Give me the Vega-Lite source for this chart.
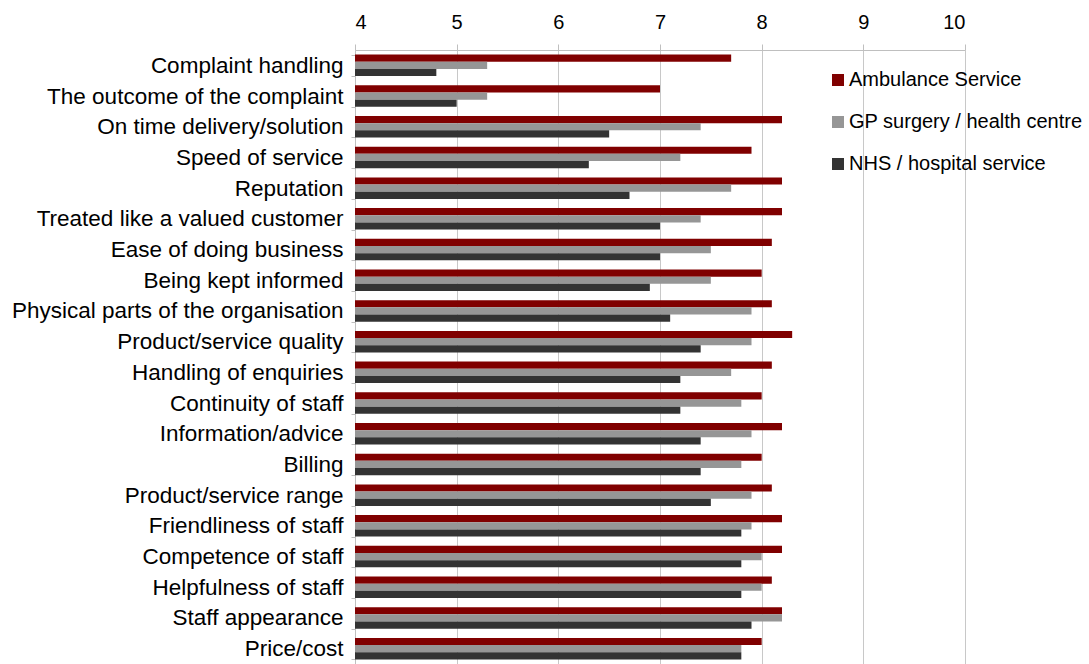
{
  "$schema": "https://vega.github.io/schema/vega-lite/v6.json",
  "autosize": "none",
  "width": 610,
  "height": 614,
  "padding": {"left": 355, "top": 50, "right": 124, "bottom": 0},
  "background": "white",
  "config": {
    "font": "Liberation Sans",
    "view": {"stroke": null}
  },
  "data": {
    "values": [
      {"item": "Complaint handling", "Ambulance Service": 7.7, "GP surgery / health centre": 5.3, "NHS / hospital service": 4.8},
      {"item": "The outcome of the complaint", "Ambulance Service": 7.0, "GP surgery / health centre": 5.3, "NHS / hospital service": 5.0},
      {"item": "On time delivery/solution", "Ambulance Service": 8.2, "GP surgery / health centre": 7.4, "NHS / hospital service": 6.5},
      {"item": "Speed of service", "Ambulance Service": 7.9, "GP surgery / health centre": 7.2, "NHS / hospital service": 6.3},
      {"item": "Reputation", "Ambulance Service": 8.2, "GP surgery / health centre": 7.7, "NHS / hospital service": 6.7},
      {"item": "Treated like a valued customer", "Ambulance Service": 8.2, "GP surgery / health centre": 7.4, "NHS / hospital service": 7.0},
      {"item": "Ease of doing business", "Ambulance Service": 8.1, "GP surgery / health centre": 7.5, "NHS / hospital service": 7.0},
      {"item": "Being kept informed", "Ambulance Service": 8.0, "GP surgery / health centre": 7.5, "NHS / hospital service": 6.9},
      {"item": "Physical parts of the organisation", "Ambulance Service": 8.1, "GP surgery / health centre": 7.9, "NHS / hospital service": 7.1},
      {"item": "Product/service quality", "Ambulance Service": 8.3, "GP surgery / health centre": 7.9, "NHS / hospital service": 7.4},
      {"item": "Handling of enquiries", "Ambulance Service": 8.1, "GP surgery / health centre": 7.7, "NHS / hospital service": 7.2},
      {"item": "Continuity of staff", "Ambulance Service": 8.0, "GP surgery / health centre": 7.8, "NHS / hospital service": 7.2},
      {"item": "Information/advice", "Ambulance Service": 8.2, "GP surgery / health centre": 7.9, "NHS / hospital service": 7.4},
      {"item": "Billing", "Ambulance Service": 8.0, "GP surgery / health centre": 7.8, "NHS / hospital service": 7.4},
      {"item": "Product/service range", "Ambulance Service": 8.1, "GP surgery / health centre": 7.9, "NHS / hospital service": 7.5},
      {"item": "Friendliness of staff", "Ambulance Service": 8.2, "GP surgery / health centre": 7.9, "NHS / hospital service": 7.8},
      {"item": "Competence of staff", "Ambulance Service": 8.2, "GP surgery / health centre": 8.0, "NHS / hospital service": 7.8},
      {"item": "Helpfulness of staff", "Ambulance Service": 8.1, "GP surgery / health centre": 8.0, "NHS / hospital service": 7.8},
      {"item": "Staff appearance", "Ambulance Service": 8.2, "GP surgery / health centre": 8.2, "NHS / hospital service": 7.9},
      {"item": "Price/cost", "Ambulance Service": 8.0, "GP surgery / health centre": 7.8, "NHS / hospital service": 7.8}
    ]
  },
  "transform": [
    {"fold": ["Ambulance Service", "GP surgery / health centre", "NHS / hospital service"], "as": ["series", "value"]}
  ],
  "mark": {"type": "bar", "cornerRadius": 0},
  "encoding": {
    "y": {
      "field": "item",
      "type": "nominal",
      "sort": null,
      "scale": {"paddingInner": 0.3, "paddingOuter": 0.15},
      "axis": {
        "title": null,
        "labelFontSize": 22.5,
        "labelColor": "#000000",
        "labelPadding": 8,
        "tickSize": 4,
        "tickColor": "#bfbfbf",
        "domainColor": "#bfbfbf",
        "tickBand": "extent",
        "grid": false,
        "labelLimit": 400
      }
    },
    "yOffset": {
      "field": "series",
      "type": "nominal",
      "scale": {"domain": ["Ambulance Service", "GP surgery / health centre", "NHS / hospital service"], "paddingInner": 0, "paddingOuter": 0}
    },
    "x": {
      "field": "value",
      "type": "quantitative",
      "scale": {"domain": [4, 10], "zero": false, "nice": false},
      "axis": {
        "orient": "top",
        "title": null,
        "values": [4, 5, 6, 7, 8, 9, 10],
        "format": "d",
        "labelFontSize": 20,
        "labelColor": "#000000",
        "labelPadding": 12,
        "tickSize": 6,
        "tickColor": "#bfbfbf",
        "domainColor": "#bfbfbf",
        "grid": true,
        "gridColor": "#c8c8c8",
        "gridWidth": 1
      }
    },
    "x2": {"datum": 4},
    "color": {
      "field": "series",
      "type": "nominal",
      "scale": {"domain": ["Ambulance Service", "GP surgery / health centre", "NHS / hospital service"], "range": ["#800000", "#969696", "#333333"]},
      "legend": {
        "title": null,
        "orient": "none",
        "legendX": 473,
        "legendY": 20,
        "padding": 0,
        "symbolType": "square",
        "symbolSize": 144,
        "symbolStrokeWidth": 0,
        "symbolOpacity": 1,
        "labelFontSize": 20,
        "labelColor": "#000000",
        "labelOffset": 1,
        "rowPadding": 22,
        "labelLimit": 400
      }
    }
  }
}
